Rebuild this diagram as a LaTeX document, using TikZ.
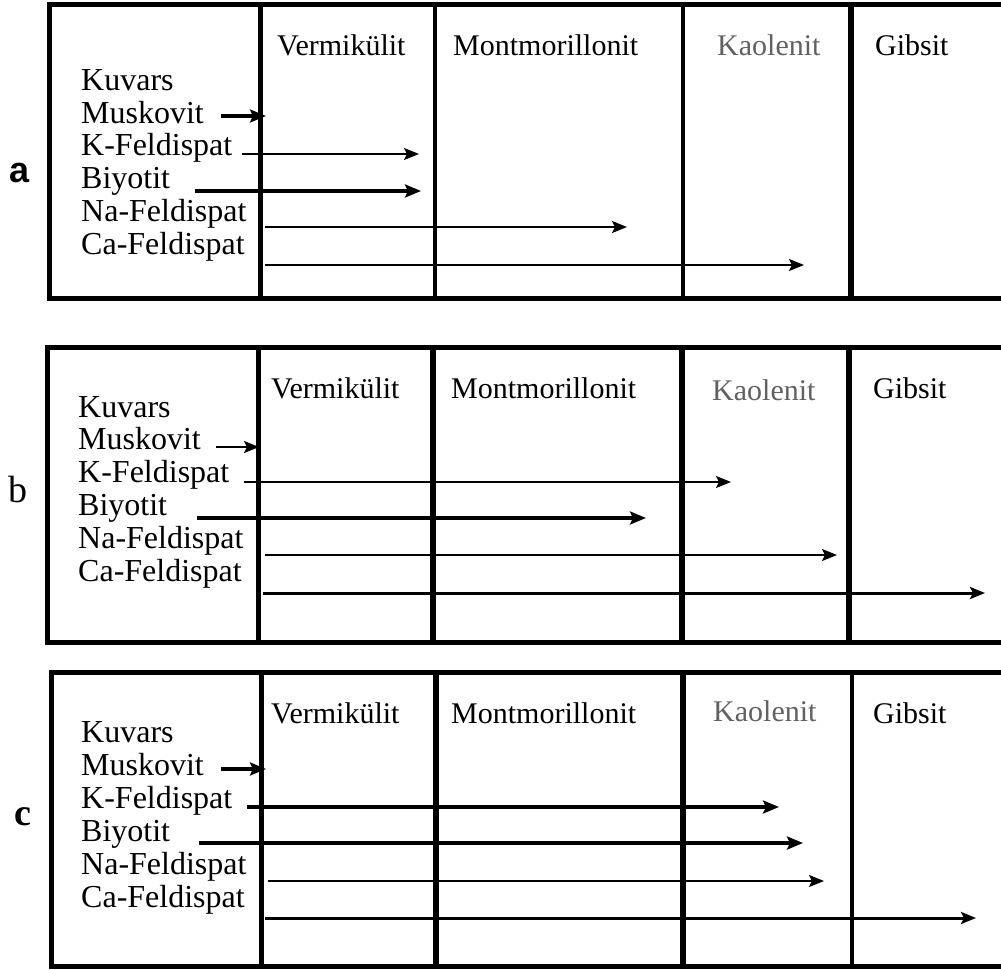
\documentclass[tikz,border=0pt]{standalone}
\usepackage{fontspec}
\setmainfont{Liberation Serif}
\setsansfont{Liberation Sans}
\usetikzlibrary{arrows.meta}
\begin{document}
\begin{tikzpicture}[x=1pt,y=-1pt,
  frame/.style={line width=5pt},
  divthick/.style={line width=5pt},
  divthin/.style={line width=4pt},
  lab/.style={inner sep=0pt,anchor=base west,font=\fontsize{32}{36}\selectfont},
  head/.style={inner sep=0pt,anchor=base west,font=\fontsize{30}{34}\selectfont},
  grayhead/.style={head,text=black!62},
  letter/.style={inner sep=0pt,anchor=base west,font=\fontsize{38}{42}\selectfont},
  arrthin/.style={line width=2pt,-{Stealth[length=15pt,width=12pt,inset=3pt]}},
  arrthick/.style={line width=4pt,-{Stealth[length=16pt,width=13pt,inset=3pt]}},
  arrmid/.style={line width=3pt,-{Stealth[length=15pt,width=12pt,inset=3pt]}}]
\useasboundingbox (0,0) rectangle (1001,969);

% ---------------- panel a ----------------
\draw[frame] (49,4.5) rectangle (1010,298);
\draw[divthick] (260,4.5) -- (260,298);
\draw[divthin] (435,4.5) -- (435,298);
\draw[divthin] (683,4.5) -- (683,298);
\draw[line width=6pt] (851,4.5) -- (851,298);
\node[letter,font=\fontsize{36}{40}\sffamily\bfseries] (pa) at (9,182) {a};
\node[head] (a-ver) at (277,55) {Vermikülit};
\node[head] (a-mon) at (453,55) {Montmorillonit};
\node[grayhead] (a-kao) at (717,55) {Kaolenit};
\node[head] (a-gib) at (875,55) {Gibsit};
\node[lab] (a-kuv) at (81,90) {Kuvars};
\node[lab] (a-mus) at (81,123) {Muskovit};
\node[lab] (a-kf) at (81,155) {K-Feldispat};
\node[lab] (a-bi) at (81,188) {Biyotit};
\node[lab] (a-na) at (81,221) {Na-Feldispat};
\node[lab] (a-ca) at (81,254) {Ca-Feldispat};
\coordinate (a-mus-s) at (221,116); \coordinate (a-mus-e) at (266,116);
\coordinate (a-kf-s) at (242,154);  \coordinate (a-kf-e) at (419,154);
\coordinate (a-bi-s) at (195,191);  \coordinate (a-bi-e) at (421,191);
\coordinate (a-na-s) at (265,227);  \coordinate (a-na-e) at (627,227);
\coordinate (a-ca-s) at (265,265);  \coordinate (a-ca-e) at (804,265);
\draw[arrthick] (a-mus-s) -- (a-mus-e);
\draw[arrthin] (a-kf-s) -- (a-kf-e);
\draw[arrthick] (a-bi-s) -- (a-bi-e);
\draw[arrthin] (a-na-s) -- (a-na-e);
\draw[arrthin] (a-ca-s) -- (a-ca-e);

% ---------------- panel b ----------------
\draw[frame] (47,347.5) rectangle (1010,642);
\draw[divthick] (258,347.5) -- (258,642);
\draw[line width=6pt] (433,347.5) -- (433,642);
\draw[line width=6pt] (682,347.5) -- (682,642);
\draw[line width=6pt] (849,347.5) -- (849,642);
\node[letter] (pb) at (8,502) {b};
\node[head] (b-ver) at (271,398) {Vermikülit};
\node[head] (b-mon) at (451,398) {Montmorillonit};
\node[grayhead] (b-kao) at (712,400) {Kaolenit};
\node[head] (b-gib) at (873,398) {Gibsit};
\node[lab] (b-kuv) at (78,417) {Kuvars};
\node[lab] (b-mus) at (78,449) {Muskovit};
\node[lab] (b-kf) at (78,482) {K-Feldispat};
\node[lab] (b-bi) at (78,515) {Biyotit};
\node[lab] (b-na) at (78,548) {Na-Feldispat};
\node[lab] (b-ca) at (78,581) {Ca-Feldispat};
\coordinate (b-mus-s) at (216,447); \coordinate (b-mus-e) at (259,447);
\coordinate (b-kf-s) at (244,482);  \coordinate (b-kf-e) at (731,482);
\coordinate (b-bi-s) at (197,518);  \coordinate (b-bi-e) at (646,518);
\coordinate (b-na-s) at (265,555);  \coordinate (b-na-e) at (837,555);
\coordinate (b-ca-s) at (263,593);  \coordinate (b-ca-e) at (985,593);
\draw[arrthin] (b-mus-s) -- (b-mus-e);
\draw[arrthin] (b-kf-s) -- (b-kf-e);
\draw[arrthick] (b-bi-s) -- (b-bi-e);
\draw[arrthin] (b-na-s) -- (b-na-e);
\draw[arrmid] (b-ca-s) -- (b-ca-e);

% ---------------- panel c ----------------
\draw[frame] (51,672) rectangle (1010,966);
\draw[divthick] (261,672) -- (261,966);
\draw[line width=6pt] (436,672) -- (436,966);
\draw[line width=6pt] (683,672) -- (683,966);
\draw[divthin] (852,672) -- (852,966);
\node[letter,font=\fontsize{38}{42}\selectfont\bfseries] (pc) at (14,825) {c};
\node[head] (c-ver) at (271,723) {Vermikülit};
\node[head] (c-mon) at (451,723) {Montmorillonit};
\node[grayhead] (c-kao) at (713,721) {Kaolenit};
\node[head] (c-gib) at (873,723) {Gibsit};
\node[lab] (c-kuv) at (81,742) {Kuvars};
\node[lab] (c-mus) at (81,775) {Muskovit};
\node[lab] (c-kf) at (81,808) {K-Feldispat};
\node[lab] (c-bi) at (81,841) {Biyotit};
\node[lab] (c-na) at (81,874) {Na-Feldispat};
\node[lab] (c-ca) at (81,907) {Ca-Feldispat};
\coordinate (c-mus-s) at (221,769); \coordinate (c-mus-e) at (266,769);
\coordinate (c-kf-s) at (247,807);  \coordinate (c-kf-e) at (779,807);
\coordinate (c-bi-s) at (199,843);  \coordinate (c-bi-e) at (803,843);
\coordinate (c-na-s) at (268,881);  \coordinate (c-na-e) at (824,881);
\coordinate (c-ca-s) at (265,918);  \coordinate (c-ca-e) at (976,918);
\draw[arrthick] (c-mus-s) -- (c-mus-e);
\draw[arrthick] (c-kf-s) -- (c-kf-e);
\draw[arrthick] (c-bi-s) -- (c-bi-e);
\draw[arrthin] (c-na-s) -- (c-na-e);
\draw[arrmid] (c-ca-s) -- (c-ca-e);
\end{tikzpicture}
\end{document}
